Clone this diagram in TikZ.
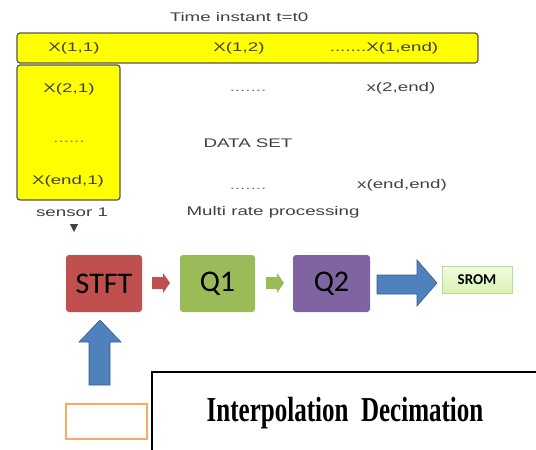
\documentclass[tikz,border=0pt]{standalone}
\usepackage{fontspec}
\setmainfont{Liberation Sans}
\newfontfamily\calfont{Carlito}
\newfontfamily\serfont{Liberation Serif}
\usetikzlibrary{positioning}
\definecolor{ylw}{HTML}{FFFF00}
\definecolor{gbord}{HTML}{555555}
\definecolor{txtg}{HTML}{404040}
\definecolor{dotg}{HTML}{777777}
\definecolor{stftred}{HTML}{C0504D}
\definecolor{qgreen}{HTML}{9BBB59}
\definecolor{qpurple}{HTML}{8064A2}
\definecolor{bluea}{HTML}{4F81BD}
\definecolor{blueb}{HTML}{385D8A}
\definecolor{sromtop}{HTML}{F2FBE3}
\definecolor{sromfill}{HTML}{D9F2B3}
\definecolor{sromb}{HTML}{B5E08A}
\definecolor{orng}{HTML}{F9A866}
\newcommand\widetxt[1]{\scalebox{1.5}[1]{#1}}
\tikzset{
  ybox/.style={draw=gbord, fill=ylw, line width=1.2pt, rounded corners=3pt},
  lbl/.style={font=\fontsize{12.5}{14}\selectfont, text=txtg, inner sep=0pt},
  procbox/.style={rounded corners=3pt, minimum width=76pt, minimum height=57pt, inner sep=0pt, font=\calfont\fontsize{30}{32}\selectfont},
}
\begin{document}
\begin{tikzpicture}[x=1pt,y=-1pt]
\useasboundingbox (0,0) rectangle (536,450);
% data set
\draw[ybox] (17,33) rectangle (478,63);
\draw[ybox] (17,65) rectangle (120,200);
\node[lbl] (title) at (239,17) {\widetxt{Time instant t=t0}};
\node[lbl] (x11) at (74,48) {\widetxt{X(1,1)}};
\node[lbl] (x12) at (239,48) {\widetxt{X(1,2)}};
\node[lbl] (x1e) at (384,48) {\widetxt{.......X(1,end)}};
\node[lbl] (x21) at (69,89) {\widetxt{X(2,1)}};
\node[lbl, text=dotg] (dd1) at (69,142) {\widetxt{......}};
\node[lbl] (xe1) at (68,181) {\widetxt{X(end,1)}};
\node[lbl, text=dotg] (dd2) at (248,91) {\widetxt{.......}};
\node[lbl] (x2e) at (401,88) {\widetxt{x(2,end)}};
\node[lbl] (ds) at (248,143) {\widetxt{DATA SET}};
\node[lbl, text=dotg] (dd3) at (248,189) {\widetxt{.......}};
\node[lbl] (xee) at (402,185) {\widetxt{x(end,end)}};
\node[lbl] (s1) at (72,212) {\widetxt{sensor 1}};
\fill[txtg] (70,224) -- (78,224) -- (74,232) -- cycle;
\node[lbl] (mrp) at (273,212) {\widetxt{Multi rate processing}};
% processing blocks
\node[procbox, fill=stftred] (stft) at (104,283.5) {STFT};
\node[procbox, fill=qgreen, minimum width=75pt] (q1) at (217.5,283.5) {Q1};
\node[procbox, fill=qpurple, minimum width=77pt] (q2) at (331.5,283.5) {Q2};
\node[draw=sromb, top color=sromtop, bottom color=sromfill, minimum width=70pt, minimum height=27pt, inner sep=0pt, font=\calfont\bfseries\fontsize{15}{16}\selectfont] (srom) at (477,279.5) {SROM};
% small arrows
\fill[stftred] (152,277) -- (163,277) -- (163,273) -- (170,283) -- (163,293) -- (163,289) -- (152,289) -- cycle;
\fill[qgreen] (266,277) -- (277,277) -- (277,273) -- (284,283) -- (277,293) -- (277,289) -- (266,289) -- cycle;
% big blue arrow to SROM
\draw[blueb, fill=bluea, line width=0.6pt] (377,275) -- (417,275) -- (417,260) -- (437,283) -- (417,306) -- (417,294) -- (377,294) -- cycle;
% up arrow into STFT
\draw[blueb, fill=bluea, line width=0.6pt] (89,385) -- (89,342) -- (79,342) -- (100,320) -- (121,342) -- (110,342) -- (110,385) -- cycle;
% orange box
\node[draw=orng, line width=1.3pt, minimum width=81pt, minimum height=35pt, inner sep=0pt] (inbox) at (106.5,421.5) {};
% big box
\draw[black, line width=1.5pt] (152,455) -- (152,372) -- (545,372);
\node[inner sep=0pt, font=\serfont\bfseries\fontsize{35}{37}\selectfont] (interp) at (345,413) {\scalebox{0.715}[1]{Interpolation\ \ Decimation}};
\end{tikzpicture}
\end{document}
